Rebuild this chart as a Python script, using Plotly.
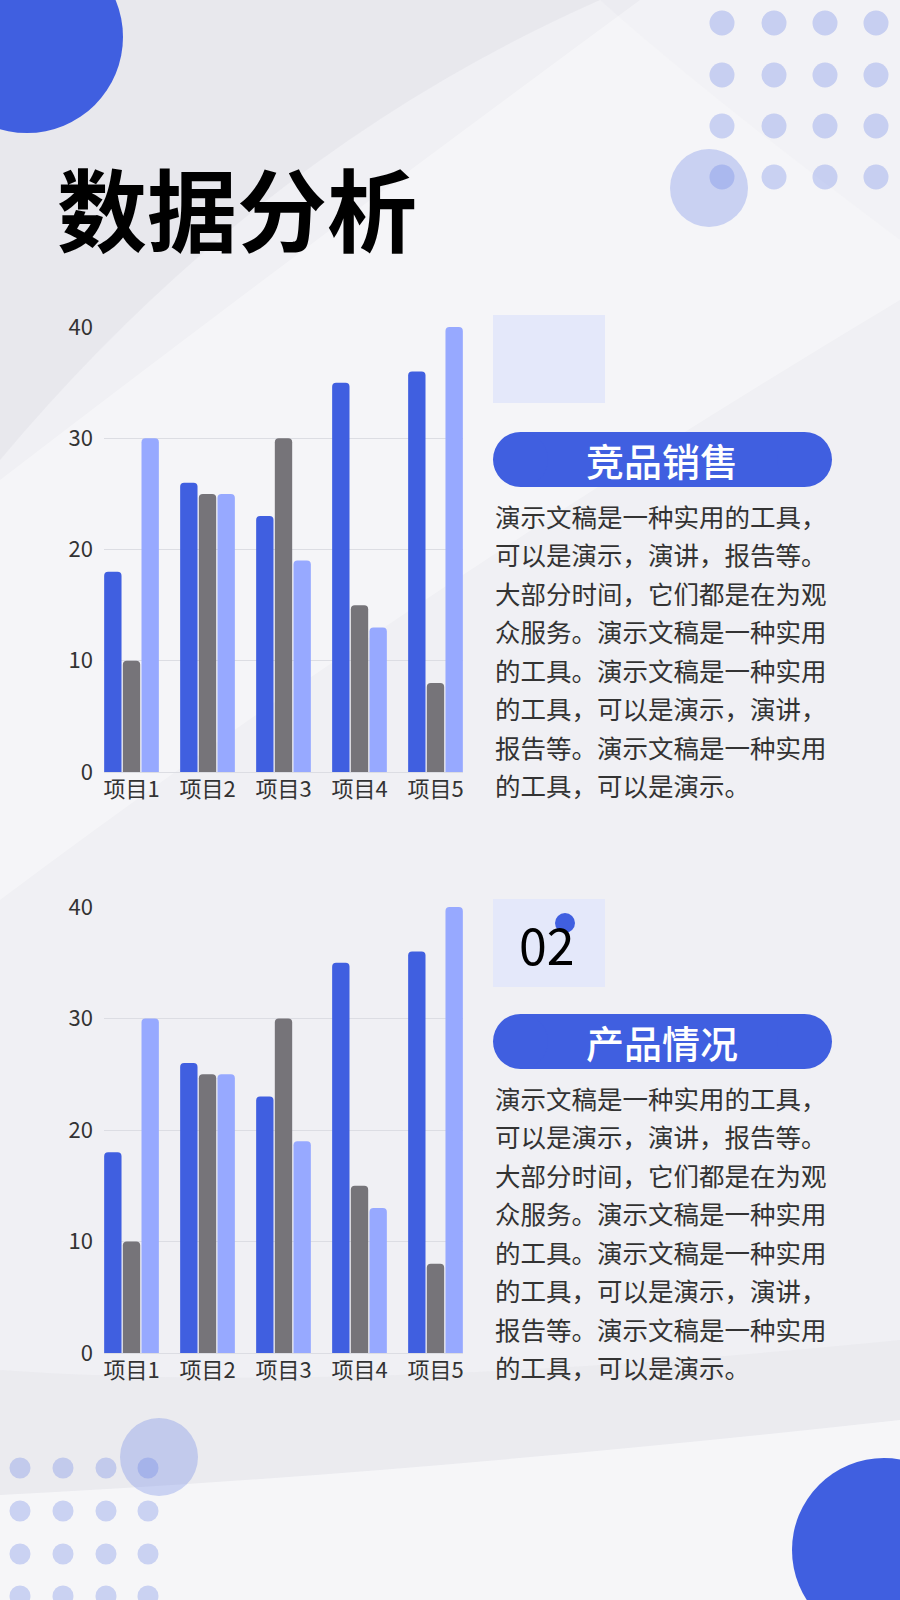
import plotly.graph_objects as go

W, H = 900, 1600

categories = ["项目1", "项目2", "项目3", "项目4", "项目5"]
series_a = [18, 26, 23, 35, 36]
series_b = [10, 25, 30, 15, 8]
series_c = [30, 25, 19, 13, 40]
y_ticks = [0, 10, 20, 30, 40]

title_text = "数据分析"
section_titles = ["竞品销售", "产品情况"]
section_numbers = ["", "02"]
body_lines = [
    "演示文稿是一种实用的工具，",
    "可以是演示，演讲，报告等。",
    "大部分时间，它们都是在为观",
    "众服务。演示文稿是一种实用",
    "的工具。演示文稿是一种实用",
    "的工具，可以是演示，演讲，",
    "报告等。演示文稿是一种实用",
    "的工具，可以是演示。",
]

BLUE = "#405FE0"
GREY = "#767479"
LIGHT = "#97A9FF"
FONT = "Noto Sans CJK SC"


def px(x):
    return x / W


def py(y):
    return 1 - y / H


def rect(x0, y0, x1, y1, color, kind="rect"):
    return dict(type=kind, xref="paper", yref="paper", layer="below",
                x0=px(x0), x1=px(x1), y0=py(y1), y1=py(y0),
                fillcolor=color, line=dict(width=0))


def circle(cx, cy, r, color):
    return rect(cx - r, cy - r, cx + r, cy + r, color, "circle")


def path(cmds, color):
    # cmds: svg commands mixed with (x, y) pixel points
    parts = []
    for c in cmds:
        if isinstance(c, str):
            parts.append(c)
        else:
            parts.append(f"{px(c[0]):.5f},{py(c[1]):.5f}")
    return dict(type="path", xref="paper", yref="paper", layer="below",
                path=" ".join(parts), fillcolor=color, line=dict(width=0))


fig = go.Figure()

# two identical charts
for ax in ["", "2"]:
    for vals, col in [(series_a, BLUE), (series_b, GREY), (series_c, LIGHT)]:
        fig.add_trace(go.Bar(
            x=categories, y=vals, marker=dict(color=col, cornerradius=4, line=dict(width=0)),
            xaxis="x" + ax, yaxis="y" + ax, showlegend=False, hoverinfo="skip"))

tick_font = dict(family=FONT, size=22, color="#333333")
axis_common_y = dict(range=[0, 40], tickvals=y_ticks, showgrid=True, gridcolor="#DCDDE3",
                     gridwidth=1, zeroline=True, zerolinecolor="#DCDDE3", zerolinewidth=1,
                     showline=False, ticks="", ticklabelstandoff=10, automargin=False,
                     tickfont=tick_font, fixedrange=True)
axis_common_x = dict(range=[-0.362, 4.362], showgrid=False, zeroline=False, showline=False,
                     ticks="", tickfont=tick_font, ticklabelstandoff=2, automargin=False,
                     fixedrange=True, domain=[px(104), px(463)])

shapes = []
# soft silky background tones
shapes.append(path(["M", (0, 0), "L", (600, 0), "Q", (260, 150), (0, 460), "Z"],
                   "rgba(205,207,216,0.22)"))
shapes.append(path(["M", (600, 0), "L", (900, 0), "L", (900, 240), "Q", (700, 90), (600, 0), "Z"],
                   "rgba(215,217,225,0.15)"))
shapes.append(path(["M", (0, 480), "Q", (300, 250), (640, 0), "L", (900, 0), "L", (900, 300),
                    "Q", (400, 600), (0, 900), "Z"], "rgba(255,255,255,0.35)"))
shapes.append(path(["M", (0, 1370), "Q", (350, 1395), (900, 1340), "L", (900, 1420),
                    "Q", (400, 1475), (0, 1495), "Z"], "rgba(205,207,216,0.14)"))
shapes.append(path(["M", (0, 1495), "Q", (400, 1475), (900, 1420), "L", (900, 1600),
                    "L", (0, 1600), "Z"], "rgba(255,255,255,0.4)"))

# decorative circles
shapes.append(circle(27, 37, 96, BLUE))
shapes.append(circle(884, 1550, 92, BLUE))
dot = "rgba(100,125,230,0.3)"
for yy in [23, 75, 126, 177]:
    for xx in [722, 774, 825, 876]:
        shapes.append(circle(xx, yy, 12.5, dot))
shapes.append(circle(709, 188, 39, dot))
for yy in [1468, 1511, 1554, 1596]:
    for xx in [20, 63, 106, 148]:
        shapes.append(circle(xx, yy, 10.5, dot))
shapes.append(circle(159, 1457, 39, dot))

annotations = [dict(text=title_text, x=px(55), y=py(206), xref="paper", yref="paper",
                    xanchor="left", yanchor="middle", showarrow=False,
                    font=dict(family=FONT, size=90, color="#000000", weight=700))]

for s, off in enumerate([0, 582]):
    # number square
    sq = 2 if s else 0
    shapes.append(rect(493, 315 + off + sq, 605, 403 + off + sq, "#E4E8FA"))
    # pill
    top, bot = 432 + off, 487 + off
    r = (bot - top) / 2
    shapes.append(rect(493 + r, top, 832 - r, bot, BLUE))
    shapes.append(circle(493 + r, top + r, r, BLUE))
    shapes.append(circle(832 - r, top + r, r, BLUE))
    annotations.append(dict(text=section_titles[s], x=px(662), y=py(top + r), xref="paper",
                            yref="paper", xanchor="center", yanchor="middle", showarrow=False,
                            font=dict(family=FONT, size=38, color="white", weight=500)))
    if section_numbers[s]:
        shapes.append(circle(565, 923, 10, BLUE))
        annotations.append(dict(text=section_numbers[s], x=px(547), y=py(943), xref="paper",
                                yref="paper", xanchor="center", yanchor="middle", showarrow=False,
                                font=dict(family=FONT, size=50, color="#000000")))
    for k, line in enumerate(body_lines):
        annotations.append(dict(text=line, x=px(493), y=py(515 + off + k * 38.5), xref="paper",
                                yref="paper", xanchor="left", yanchor="middle", showarrow=False,
                                font=dict(family=FONT, size=25.5, color="#333333")))

fig.update_layout(
    width=W, height=H, margin=dict(l=0, r=0, t=0, b=0, pad=0, autoexpand=False),
    paper_bgcolor="#F0F0F4", plot_bgcolor="rgba(0,0,0,0)",
    barmode="group", bargap=0.263, bargroupgap=0.07,
    xaxis=axis_common_x, yaxis=dict(axis_common_y, domain=[py(772), py(327)]),
    xaxis2=dict(axis_common_x, anchor="y2"),
    yaxis2=dict(axis_common_y, domain=[py(1353), py(907)], anchor="x2"),
    shapes=shapes, annotations=annotations,
)

page_fix = ("document.body.style.margin='0';document.body.style.padding='0';"
            "document.body.style.background='#F0F0F4';")
fig.write_html("out.html", config={"displayModeBar": False}, post_script=page_fix)
